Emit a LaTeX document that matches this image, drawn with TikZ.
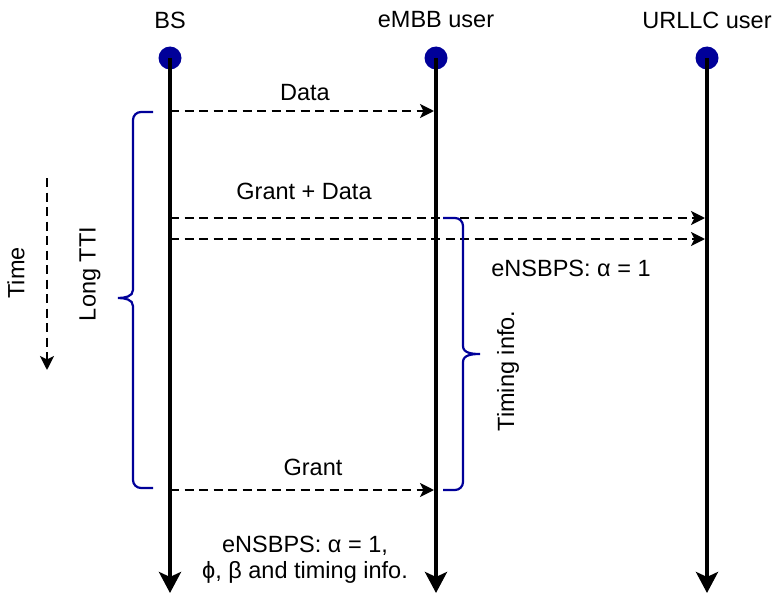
\documentclass[tikz,border=0pt]{standalone}
\usepackage{fontspec}
\setmainfont{Liberation Sans}
\usetikzlibrary{arrows.meta}
\definecolor{dotblue}{HTML}{000099}
\tikzset{
  every node/.style={font=\fontsize{23.5}{27}\selectfont, inner sep=0pt},
  lifeline/.style={line width=4.8pt, -{Stealth[length=21pt,width=22pt,inset=5pt]}},
  msg/.style={line width=2.5pt, dash pattern=on 9pt off 5.5pt, -{Stealth[length=14pt,width=14pt,inset=3.5pt]}},
  brace/.style={draw=dotblue, line width=2.2pt},
  dot/.style={circle, fill=dotblue, minimum size=23pt, inner sep=0pt},
  lbl/.style={text=black}
}
\begin{document}
\begin{tikzpicture}[x=1pt,y=-1pt]
\useasboundingbox (0,0) rectangle (779,594);
% headers
\node[lbl] (hbs) at (170,20) {BS};
\node[lbl] (hem) at (436,20) {eMBB user};
\node[lbl] (hur) at (707,20) {URLLC user};
% dots
\node[dot] (dbs) at (170,58) {};
\node[dot] (dem) at (436,58) {};
\node[dot] (dur) at (707,58) {};
\coordinate (ebs) at (170,593);
\coordinate (eem) at (436,593);
\coordinate (eur) at (707,593);
\draw[lifeline] (dbs.center) -- (ebs);
\draw[lifeline] (dem.center) -- (eem);
\draw[lifeline] (dur.center) -- (eur);
% messages
\coordinate (d1s) at (170,111); \coordinate (d1e) at (434,111);
\draw[msg] (d1s) -- (d1e);
\node[lbl] (tdata) at (305,93) {Data};
\coordinate (g1s) at (170,218); \coordinate (g1e) at (705,218);
\coordinate (g2s) at (170,239); \coordinate (g2e) at (705,239);
\draw[msg] (g1s) -- (g1e);
\draw[msg] (g2s) -- (g2e);
\node[lbl] (tgd) at (304,191) {Grant + Data};
\node[lbl] (tens) at (571,268) {eNSBPS: α = 1};
\coordinate (g3s) at (170,490); \coordinate (g3e) at (434,490);
\draw[msg] (g3s) -- (g3e);
\node[lbl] (tgrant) at (313,467) {Grant};
\node[lbl, align=center] (tbot) at (305,560) {eNSBPS: α = 1,\\[-1pt]ϕ, β and timing info.};
% left brace
\coordinate (lbt) at (153,112);
\coordinate (lbb) at (153,488);
\coordinate (lbp) at (118,298);
\draw[brace] (lbt) -- (141,112) to[out=180,in=90] (133,120) -- (133,290)
  to[out=-90,in=0] (lbp) to[out=0,in=90] (133,306) -- (133,480)
  to[out=-90,in=180] (141,488) -- (lbb);
\node[lbl, rotate=90] (tltti) at (90,274) {Long TTI};
% right brace
\coordinate (rbt) at (443,218);
\coordinate (rbb) at (443,490);
\coordinate (rbp) at (480,354);
\draw[brace] (rbt) -- (455,218) to[out=0,in=90] (463,226) -- (463,346)
  to[out=-90,in=180] (rbp) to[out=180,in=90] (463,362) -- (463,482)
  to[out=-90,in=0] (455,490) -- (rbb);
\node[lbl, rotate=90] (ttim) at (508,371) {Timing info.};
% time arrow
\coordinate (ts) at (47,178);
\coordinate (te) at (47,370);
\draw[msg] (ts) -- (te);
\node[lbl, rotate=90] (ttime) at (16,273) {Time};
\end{tikzpicture}
\end{document}
